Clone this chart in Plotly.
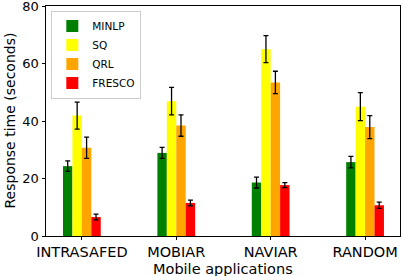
import plotly.graph_objects as go

categories = ["INTRASAFED", "MOBIAR", "NAVIAR", "RANDOM"]
series_names = ["MINLP", "SQ", "QRL", "FRESCO"]
minlp = [24.3, 28.9, 18.6, 25.7]
minlp_err = [1.8, 1.9, 1.9, 2.0]
sq = [41.9, 46.9, 65.0, 45.0]
sq_err = [4.7, 4.8, 4.7, 4.9]
qrl = [30.7, 38.4, 53.4, 37.9]
qrl_err = [3.7, 3.7, 3.9, 4.0]
fresco = [6.6, 11.5, 17.7, 10.7]
fresco_err = [1.0, 1.0, 0.9, 1.1]
y_ticks = [0, 20, 40, 60, 80]
colors = ["#008000", "#ffff00", "#ffa500", "#ff0000"]

values = [minlp, sq, qrl, fresco]
errors = [minlp_err, sq_err, qrl_err, fresco_err]

fig = go.Figure()
for name, v, e, c in zip(series_names, values, errors, colors):
    fig.add_trace(go.Bar(
        x=categories, y=v, name=name, marker_color=c, marker_line_width=0,
        error_y=dict(type="data", array=e, color="black", thickness=1.3, width=2.5),
    ))

font = "DejaVu Sans, Arial, sans-serif"
fig.update_layout(
    width=404, height=276,
    margin=dict(l=46, r=4, t=6, b=40, autoexpand=False),
    barmode="group", bargap=0.6, bargroupgap=0,
    plot_bgcolor="white", paper_bgcolor="white",
    font=dict(family=font, color="black", size=14),
    legend=dict(x=0.015, y=0.98, xanchor="left", yanchor="top",
                bgcolor="rgba(255,255,255,0.8)", bordercolor="#cccccc", borderwidth=1,
                font=dict(size=10.5), tracegroupgap=0, itemwidth=30),
    showlegend=True,
    annotations=[
        dict(text="Mobile applications", xref="paper", yref="paper", x=0.5, y=0,
             yshift=-33, xanchor="center", yanchor="middle", showarrow=False,
             font=dict(size=14.5)),
        dict(text="Response time (seconds)", xref="paper", yref="paper", x=0, y=0.5,
             xshift=-36.5, xanchor="center", yanchor="middle", textangle=-90,
             showarrow=False, font=dict(size=14)),
    ],
)
fig.update_xaxes(
    range=[-0.38, 3.37], showline=True, linecolor="black", linewidth=1, mirror=True,
    ticks="outside", ticklen=3, tickcolor="black", tickfont=dict(size=14.5),
    ticklabeloverflow="allow", automargin=False,
)
fig.update_yaxes(
    range=[0, 80], tickvals=y_ticks, showline=True, linecolor="black", linewidth=1, mirror=True,
    ticks="outside", ticklen=3.5, tickcolor="black", showgrid=False, zeroline=False,
    tickfont=dict(size=13), ticklabeloverflow="allow", automargin=False,
)
fig.write_html("out.html", config={"displayModeBar": False},
               post_script="document.body.style.margin='0';")
